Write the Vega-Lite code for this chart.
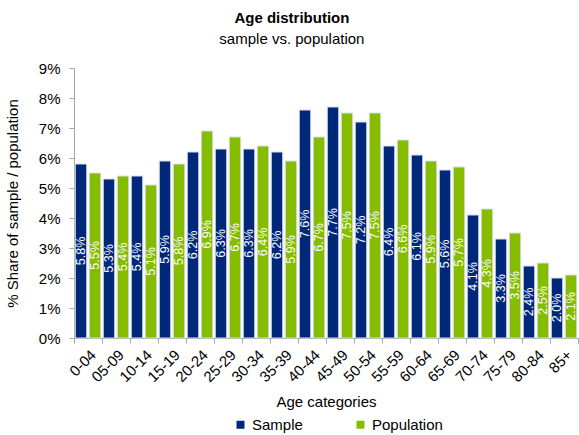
{
  "$schema": "https://vega.github.io/schema/vega-lite/v6.json",
  "width": 504,
  "height": 270,
  "padding": {"left": 5, "top": 11, "right": 0, "bottom": 5},
  "background": "white",
  "config": {
    "font": "Liberation Sans",
    "view": {"stroke": null}
  },
  "title": {
    "text": "Age distribution",
    "subtitle": "sample vs. population",
    "fontSize": 15,
    "fontWeight": "bold",
    "subtitleFontSize": 15,
    "subtitleColor": "#000000",
    "color": "#000000",
    "subtitlePadding": 6,
    "anchor": "middle",
    "frame": "bounds",
    "offset": 14
  },
  "data": {
    "values": [
      {"age": "0-04", "group": "Sample", "share": 0.058},
      {"age": "0-04", "group": "Population", "share": 0.055},
      {"age": "05-09", "group": "Sample", "share": 0.053},
      {"age": "05-09", "group": "Population", "share": 0.054},
      {"age": "10-14", "group": "Sample", "share": 0.054},
      {"age": "10-14", "group": "Population", "share": 0.051},
      {"age": "15-19", "group": "Sample", "share": 0.059},
      {"age": "15-19", "group": "Population", "share": 0.058},
      {"age": "20-24", "group": "Sample", "share": 0.062},
      {"age": "20-24", "group": "Population", "share": 0.069},
      {"age": "25-29", "group": "Sample", "share": 0.063},
      {"age": "25-29", "group": "Population", "share": 0.067},
      {"age": "30-34", "group": "Sample", "share": 0.063},
      {"age": "30-34", "group": "Population", "share": 0.064},
      {"age": "35-39", "group": "Sample", "share": 0.062},
      {"age": "35-39", "group": "Population", "share": 0.059},
      {"age": "40-44", "group": "Sample", "share": 0.076},
      {"age": "40-44", "group": "Population", "share": 0.067},
      {"age": "45-49", "group": "Sample", "share": 0.077},
      {"age": "45-49", "group": "Population", "share": 0.075},
      {"age": "50-54", "group": "Sample", "share": 0.072},
      {"age": "50-54", "group": "Population", "share": 0.075},
      {"age": "55-59", "group": "Sample", "share": 0.064},
      {"age": "55-59", "group": "Population", "share": 0.066},
      {"age": "60-64", "group": "Sample", "share": 0.061},
      {"age": "60-64", "group": "Population", "share": 0.059},
      {"age": "65-69", "group": "Sample", "share": 0.056},
      {"age": "65-69", "group": "Population", "share": 0.057},
      {"age": "70-74", "group": "Sample", "share": 0.041},
      {"age": "70-74", "group": "Population", "share": 0.043},
      {"age": "75-79", "group": "Sample", "share": 0.033},
      {"age": "75-79", "group": "Population", "share": 0.035},
      {"age": "80-84", "group": "Sample", "share": 0.024},
      {"age": "80-84", "group": "Population", "share": 0.025},
      {"age": "85+", "group": "Sample", "share": 0.020},
      {"age": "85+", "group": "Population", "share": 0.021}
    ]
  },
  "transform": [{"calculate": "datum.share / 2", "as": "mid"}],
  "encoding": {
    "x": {
      "field": "age",
      "type": "nominal",
      "sort": null,
      "scale": {"paddingInner": 0, "paddingOuter": 0},
      "axis": {
        "title": "Age categories",
        "titleFontSize": 15,
        "titleFontWeight": "normal",
        "titleColor": "#000000",
        "titlePadding": 10,
        "labelAngle": -45,
        "labelFontSize": 15,
        "labelColor": "#000000",
        "labelPadding": 4,
        "labelOverlap": false,
        "tickBand": "extent",
        "tickSize": 5,
        "tickColor": "#a6a6a6",
        "domainColor": "#a6a6a6",
        "grid": false
      }
    },
    "xOffset": {
      "field": "group",
      "type": "nominal",
      "sort": ["Sample", "Population"],
      "scale": {"paddingInner": 0.18, "paddingOuter": 0.09}
    }
  },
  "layer": [
    {
      "mark": {"type": "bar", "stroke": "#d9dde6", "strokeWidth": 1},
      "encoding": {
        "y": {
          "field": "share",
          "type": "quantitative",
          "scale": {"domain": [0, 0.09], "nice": false},
          "axis": {
            "title": "% Share of sample / population",
            "titleFontSize": 15,
            "titleFontWeight": "normal",
            "titleColor": "#000000",
            "titlePadding": 18,
            "values": [0, 0.01, 0.02, 0.03, 0.04, 0.05, 0.06, 0.07, 0.08, 0.09],
            "format": ".0%",
            "labelFontSize": 15,
            "labelColor": "#000000",
            "labelPadding": 9,
            "labelOverlap": false,
            "tickSize": 5,
            "tickColor": "#a6a6a6",
            "domainColor": "#a6a6a6",
            "grid": false
          }
        },
        "color": {
          "field": "group",
          "type": "nominal",
          "sort": ["Sample", "Population"],
          "scale": {"domain": ["Sample", "Population"], "range": ["#00287a", "#86bc00"]},
          "legend": {
            "title": null,
            "orient": "none",
            "legendX": 159,
            "legendY": 349,
            "padding": 0,
            "direction": "horizontal",
            "symbolType": "square",
            "symbolSize": 64,
            "symbolStrokeWidth": 0,
            "labelFontSize": 15,
            "labelColor": "#000000",
            "labelOffset": 4,
            "columnPadding": 50
          }
        }
      }
    },
    {
      "mark": {"type": "text", "angle": -90, "align": "center", "baseline": "middle", "color": "white", "fontSize": 12.5},
      "encoding": {
        "y": {
          "field": "mid",
          "type": "quantitative",
          "scale": {"domain": [0, 0.09], "nice": false},
          "axis": {
            "title": "% Share of sample / population",
            "titleFontSize": 15,
            "titleFontWeight": "normal",
            "titleColor": "#000000",
            "titlePadding": 18,
            "values": [0, 0.01, 0.02, 0.03, 0.04, 0.05, 0.06, 0.07, 0.08, 0.09],
            "format": ".0%",
            "labelFontSize": 15,
            "labelColor": "#000000",
            "labelPadding": 9,
            "labelOverlap": false,
            "tickSize": 5,
            "tickColor": "#a6a6a6",
            "domainColor": "#a6a6a6",
            "grid": false
          }
        },
        "text": {"field": "share", "type": "quantitative", "format": ".1%"}
      }
    }
  ]
}
